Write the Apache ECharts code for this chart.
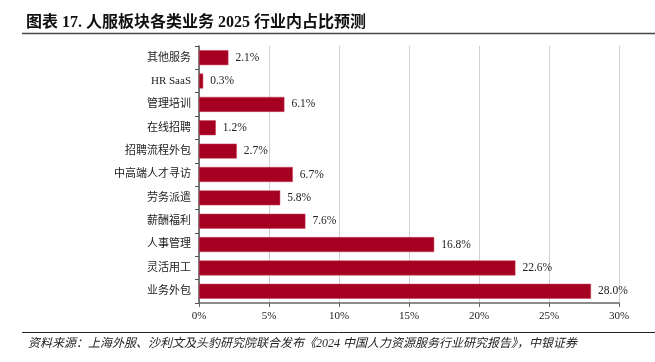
<!DOCTYPE html>
<html>
<head>
<meta charset="utf-8">
<script src="https://cdn.jsdelivr.net/npm/echarts@6/dist/echarts.min.js"></script>
<style>html,body{margin:0;padding:0;background:#fff;}#c{width:655px;height:362px;}</style>
</head>
<body>
<div id="c"></div>
<script>
var categories = ['其他服务','HR SaaS','管理培训','在线招聘','招聘流程外包','中高端人才寻访','劳务派遣','薪酬福利','人事管理','灵活用工','业务外包'];
var values = [2.1, 0.3, 6.1, 1.2, 2.7, 6.7, 5.8, 7.6, 16.8, 22.6, 28.0];
var xTicks = [0, 5, 10, 15, 20, 25, 30];
var titleText = '图表 17. 人服板块各类业务 2025 行业内占比预测';
var sourceText = '资料来源：上海外服、沙利文及头豹研究院联合发布《2024 中国人力资源服务行业研究报告》，中银证券';

var serif = "'Liberation Serif','Times New Roman','Noto Sans CJK SC',serif";
var chart = echarts.init(document.getElementById('c'), null, {renderer: 'canvas'});
chart.setOption({
  animation: false,
  backgroundColor: '#fff',
  title: {
    text: titleText, left: 21, top: 10,
    textStyle: {fontFamily: serif, fontSize: 16, fontWeight: 'bold', color: '#111'}
  },
  graphic: [
    {type: 'line', shape: {x1: 22, y1: 33.5, x2: 655, y2: 33.5}, style: {stroke: '#444', lineWidth: 1.5}},
    {type: 'line', shape: {x1: 22, y1: 332.5, x2: 655, y2: 332.5}, style: {stroke: '#222', lineWidth: 1}},
    {type: 'text', left: 28, top: 338, style: {text: sourceText, fontFamily: serif, fontSize: 12, fontStyle: 'italic', fill: '#222'}}
  ],
  grid: {left: 199, right: 36, top: 46, bottom: 59, containLabel: false},
  xAxis: {
    type: 'value', min: 0, max: 30, interval: 5,
    axisLine: {show: true, lineStyle: {color: '#666', width: 1.5}},
    axisTick: {show: true, length: 4, lineStyle: {color: '#666'}},
    axisLabel: {formatter: function(v){ return xTicks.indexOf(v) >= 0 ? v + '%' : ''; }, fontFamily: serif, fontSize: 11, color: '#222', margin: 8},
    splitLine: {show: true, lineStyle: {color: '#d0d0d0', width: 1}}
  },
  yAxis: {
    type: 'category', data: categories, inverse: true,
    axisLine: {show: true, lineStyle: {color: '#555', width: 1.5}},
    axisTick: {show: true, length: 4, lineStyle: {color: '#555'}},
    axisLabel: {fontFamily: serif, fontSize: 11, color: '#222', margin: 8}
  },
  series: [{
    type: 'bar', data: values, barCategoryGap: '36%',
    itemStyle: {color: '#A50021', borderColor: '#c8405a', borderWidth: 0.5},
    label: {show: true, position: 'right', distance: 7, formatter: function(p){ return p.value.toFixed(1) + '%'; }, fontFamily: serif, fontSize: 11.5, color: '#222'}
  }]
});
</script>
</body>
</html>
